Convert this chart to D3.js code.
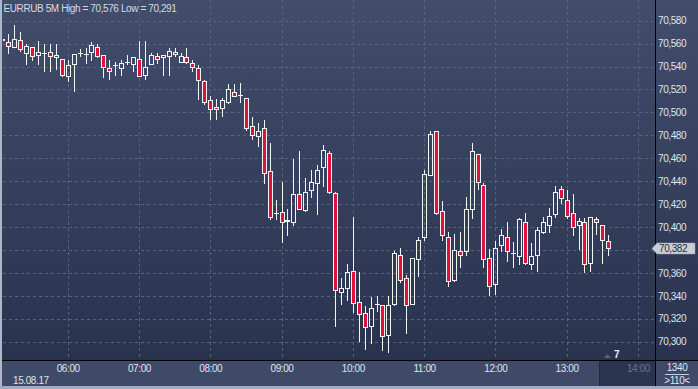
<!DOCTYPE html>
<html>
<head>
<meta charset="utf-8">
<script src="https://cdn.jsdelivr.net/npm/d3@7"></script>
<style>
  body { margin: 0; background: #2b3550; }
  svg { display: block; font-family: "Liberation Sans", Arial, sans-serif; }
</style>
</head>
<body>
<svg id="chart" width="698" height="389"></svg>
<script>
/*******************
 * Data (EURRUB, 5 minute candles, 15.08.17)
 *******************/
const firstBar = "2017-08-15 05:05";   // one bar every 5 minutes from here
const openPrices = [
  70563, 70561, 70557, 70563, 70552, 70557, 70550, 70552, 70553, 70548,
  70547, 70532, 70542, 70552, 70551, 70553, 70557, 70550, 70539, 70541,
  70539, 70544, 70542, 70547, 70533, 70542, 70549, 70548, 70549, 70553,
  70544, 70548, 70543, 70539, 70527, 70511, 70505, 70504, 70509, 70518,
  70515, 70513, 70488, 70479, 70486, 70449, 70412, 70413, 70406, 70404,
  70429, 70415, 70432, 70438, 70452, 70465, 70430, 70343, 70347, 70362,
  70335, 70325, 70314, 70333, 70332, 70306, 70333, 70376, 70356, 70333,
  70372, 70391, 70445, 70484, 70414, 70391, 70354, 70379, 70379, 70416,
  70464, 70437, 70373, 70350, 70384, 70391, 70377, 70375, 70404, 70368,
  70376, 70396, 70402, 70411, 70433, 70424, 70412, 70402, 70404, 70369,
  70407, 70402, 70388
];
const highPrices = [
  70564, 70568, 70576, 70570, 70560, 70557, 70562, 70560, 70560, 70560,
  70547, 70546, 70551, 70555, 70556, 70561, 70560, 70550, 70546, 70544,
  70546, 70550, 70548, 70562, 70562, 70552, 70552, 70550, 70556, 70556,
  70552, 70556, 70546, 70541, 70528, 70514, 70512, 70513, 70525, 70525,
  70526, 70513, 70496, 70491, 70493, 70473, 70424, 70439, 70416, 70459,
  70466, 70443, 70450, 70454, 70472, 70466, 70431, 70356, 70368, 70409,
  70361, 70331, 70339, 70340, 70332, 70340, 70379, 70382, 70358, 70373,
  70391, 70450, 70484, 70484, 70423, 70396, 70394, 70396, 70426, 70473,
  70464, 70438, 70381, 70388, 70398, 70404, 70387, 70408, 70412, 70386,
  70400, 70409, 70417, 70436, 70436, 70432, 70429, 70408, 70408, 70409,
  70409, 70402, 70393
];
const lowPrices = [
  70562, 70552, 70557, 70554, 70542, 70546, 70542, 70536, 70536, 70538,
  70532, 70527, 70519, 70549, 70543, 70546, 70548, 70531, 70529, 70533,
  70533, 70542, 70536, 70532, 70529, 70542, 70543, 70533, 70533, 70549,
  70544, 70543, 70536, 70512, 70507, 70494, 70494, 70497, 70508, 70514,
  70509, 70485, 70477, 70471, 70438, 70407, 70407, 70387, 70393, 70402,
  70416, 70414, 70426, 70411, 70436, 70430, 70314, 70333, 70336, 70326,
  70301, 70294, 70299, 70327, 70293, 70291, 70332, 70352, 70308, 70333,
  70357, 70389, 70445, 70411, 70389, 70349, 70353, 70365, 70376, 70408,
  70433, 70365, 70341, 70342, 70379, 70370, 70365, 70368, 70368, 70363,
  70362, 70395, 70396, 70409, 70421, 70408, 70393, 70381, 70361, 70362,
  70394, 70369, 70376
];
const closePrices = [
  70564, 70558, 70564, 70555, 70558, 70549, 70553, 70552, 70549, 70550,
  70533, 70541, 70551, 70552, 70551, 70559, 70549, 70540, 70536, 70541,
  70543, 70544, 70548, 70532, 70540, 70550, 70547, 70550, 70554, 70551,
  70549, 70544, 70540, 70528, 70509, 70503, 70503, 70511, 70520, 70514,
  70515, 70486, 70480, 70484, 70447, 70409, 70412, 70404, 70405, 70429,
  70416, 70431, 70439, 70450, 70467, 70431, 70345, 70347, 70361, 70334,
  70324, 70313, 70329, 70333, 70305, 70332, 70377, 70354, 70332, 70373,
  70389, 70446, 70481, 70412, 70393, 70353, 70380, 70376, 70416, 70466,
  70439, 70372, 70349, 70382, 70393, 70379, 70377, 70407, 70369, 70375,
  70397, 70404, 70410, 70431, 70425, 70410, 70400, 70405, 70368, 70409,
  70404, 70389, 70382
];

const priceTicks = [70300, 70320, 70340, 70360, 70380, 70400, 70420, 70440,
                    70460, 70480, 70500, 70520, 70540, 70560, 70580];
const titleText = "EURRUB 5M High = 70,576 Low = 70,291";
const dateLabel = "15.08.17";
const lastPrice = 70382;
const barCountText = "1340";
const zoomText = ">110<";
const markerText = "7";

/*******************
 * Setup
 *******************/
const W = 698, H = 389;
const plotRight = 655, plotBottom = 360;
const parseTime = d3.timeParse("%Y-%m-%d %H:%M");
const t0 = parseTime(firstBar);
const bars = openPrices.map((o, i) => ({
  time: d3.timeMinute.offset(t0, 5 * i),
  open: o, high: highPrices[i], low: lowPrices[i], close: closePrices[i]
}));

const x = d3.scaleTime()
  .domain([parseTime("2017-08-15 05:10"), parseTime("2017-08-15 14:00")])
  .range([8.3, 637.9]);
const y = d3.scaleLinear().domain([70300, 70580]).range([341.7, 20.7]);

const svg = d3.select("#chart");
const defs = svg.append("defs");

const grad = defs.append("linearGradient")
  .attr("id", "bg").attr("x1", 0).attr("y1", 0).attr("x2", 0).attr("y2", 1);
grad.append("stop").attr("offset", "0%").attr("stop-color", "#414d6b");
grad.append("stop").attr("offset", "100%").attr("stop-color", "#29334e");

defs.append("clipPath").attr("id", "plotClip")
  .append("rect").attr("x", 3).attr("y", 0).attr("width", plotRight - 3).attr("height", plotBottom);

// background
svg.append("rect").attr("width", W).attr("height", plotBottom).attr("fill", "url(#bg)");

// bottom time strip
svg.append("rect").attr("x", 0).attr("y", plotBottom).attr("width", W).attr("height", H - plotBottom)
  .attr("fill", "#3e4a67");
svg.append("rect").attr("x", 599).attr("y", plotBottom + 1).attr("width", plotRight - 599).attr("height", 25)
  .attr("fill", "#2b3550");
svg.append("line").attr("x1", 599.5).attr("x2", 599.5).attr("y1", plotBottom + 1).attr("y2", 386)
  .attr("stroke", "#232b42");

/*******************
 * Grid
 *******************/
const grid = svg.append("g").attr("clip-path", "url(#plotClip)")
  .attr("stroke", "#58647f").attr("stroke-dasharray", "3,3").attr("shape-rendering", "crispEdges");

grid.selectAll(".hgrid").data(priceTicks).enter().append("line")
  .attr("x1", 3).attr("x2", plotRight)
  .attr("y1", d => Math.round(y(d)) + 0.5).attr("y2", d => Math.round(y(d)) + 0.5);

const hours = x.ticks(d3.timeHour.every(1));
grid.selectAll(".vgrid").data(hours).enter().append("line")
  .attr("y1", 0).attr("y2", plotBottom)
  .attr("x1", d => Math.round(x(d)) + 0.5).attr("x2", d => Math.round(x(d)) + 0.5);

/*******************
 * Candles
 *******************/
const candles = svg.append("g").attr("clip-path", "url(#plotClip)")
  .attr("shape-rendering", "crispEdges");

bars.forEach(d => {
  const cx = Math.round(x(d.time));
  const top = Math.round(y(Math.max(d.open, d.close))) + 0.5;
  const bot = Math.round(y(Math.min(d.open, d.close))) + 0.5;
  const up = d.close >= d.open;

  // wicks
  candles.append("line").attr("x1", cx + 0.5).attr("x2", cx + 0.5)
    .attr("y1", Math.round(y(d.high))).attr("y2", top)
    .attr("stroke", "#f4f4f4");
  candles.append("line").attr("x1", cx + 0.5).attr("x2", cx + 0.5)
    .attr("y1", bot).attr("y2", Math.round(y(d.low)) + 1)
    .attr("stroke", "#f4f4f4");

  if (bot - top < 1) {
    // doji: flat bar
    candles.append("line").attr("x1", cx - 2).attr("x2", cx + 3)
      .attr("y1", top).attr("y2", top).attr("stroke", "#f4f4f4");
  } else {
    candles.append("rect")
      .attr("x", cx - 1.5).attr("width", 4)
      .attr("y", top).attr("height", bot - top)
      .attr("fill", up ? "none" : "#e0123c")
      .attr("stroke", "#f4f4f4");
  }
});

/*******************
 * Axes
 *******************/
svg.append("line").attr("x1", 0).attr("x2", W).attr("y1", plotBottom + 0.5).attr("y2", plotBottom + 0.5)
  .attr("stroke", "#000");
svg.append("line").attr("x1", plotRight + 0.5).attr("x2", plotRight + 0.5).attr("y1", 0).attr("y2", H)
  .attr("stroke", "#000");

// the last-price tag covers the tick label next to it
const py = Math.round(y(lastPrice));
const yAxis = svg.append("g").attr("transform", `translate(${plotRight},0)`)
  .call(d3.axisRight(y).tickValues(priceTicks.filter(t => Math.abs(y(t) - py) > 9))
    .tickFormat(d3.format(",")).tickSize(0).tickPadding(3));
yAxis.select(".domain").remove();
yAxis.selectAll("text").attr("fill", "#dfe4ee").attr("font-size", "10px")
  .attr("letter-spacing", "-0.4px").attr("font-family", "Liberation Sans, Arial, sans-serif");

const xAxis = svg.append("g").attr("transform", `translate(0,${plotBottom})`)
  .call(d3.axisBottom(x).ticks(d3.timeHour.every(1)).tickFormat(d3.timeFormat("%H:%M"))
    .tickSize(0).tickPadding(5));
xAxis.select(".domain").remove();
xAxis.selectAll("text").attr("font-size", "10px").attr("letter-spacing", "-0.4px")
  .attr("font-family", "Liberation Sans, Arial, sans-serif")
  .attr("fill", d => d.getHours() >= 14 ? "#69748f" : "#dfe4ee");

svg.append("text").attr("x", 13).attr("y", 383.5).text(dateLabel)
  .attr("fill", "#dfe4ee").attr("font-size", "10px").attr("letter-spacing", "-0.4px");

// title
svg.append("text").attr("x", 3.5).attr("y", 12).text(titleText)
  .attr("fill", "#d4dae6").attr("font-size", "10px").attr("letter-spacing", "-0.4px");

// last price tag
svg.append("path")
  .attr("d", `M652,${py + 0.5} L657,${py - 5} L695,${py - 5} L695,${py + 6} L657,${py + 6} Z`)
  .attr("fill", "#c9cdd5").attr("stroke", "#9aa0ad").attr("stroke-width", 0.5);
svg.append("text").attr("x", 659).attr("y", py + 4).text(d3.format(",")(lastPrice))
  .attr("fill", "#2a2f3c").attr("font-size", "10px").attr("letter-spacing", "-0.4px");

// marker near the bottom
svg.append("path").attr("d", "M604,358 L607.5,354.5 L611,358 Z").attr("fill", "#5b6680");
svg.append("text").attr("x", 614).attr("y", 358).text(markerText)
  .attr("fill", "#eef1f6").attr("font-size", "10px").attr("font-weight", "bold");

// bottom-right box
svg.append("text").attr("x", 677).attr("y", 370.5).attr("text-anchor", "middle").text(barCountText)
  .attr("fill", "#dfe4ee").attr("font-size", "10px").attr("letter-spacing", "-0.4px");
svg.append("line").attr("x1", 665).attr("x2", 689).attr("y1", 374.5).attr("y2", 374.5)
  .attr("stroke", "#c6cdd9");
svg.append("text").attr("x", 677).attr("y", 384).attr("text-anchor", "middle").text(zoomText)
  .attr("fill", "#dfe4ee").attr("font-size", "10px").attr("letter-spacing", "-0.4px");

// frame
svg.append("rect").attr("x", 0).attr("y", 0).attr("width", 2).attr("height", H).attr("fill", "#aeb7c7");
svg.append("rect").attr("x", 0).attr("y", 386).attr("width", W).attr("height", 3).attr("fill", "#a3acbd");
</script>
</body>
</html>
